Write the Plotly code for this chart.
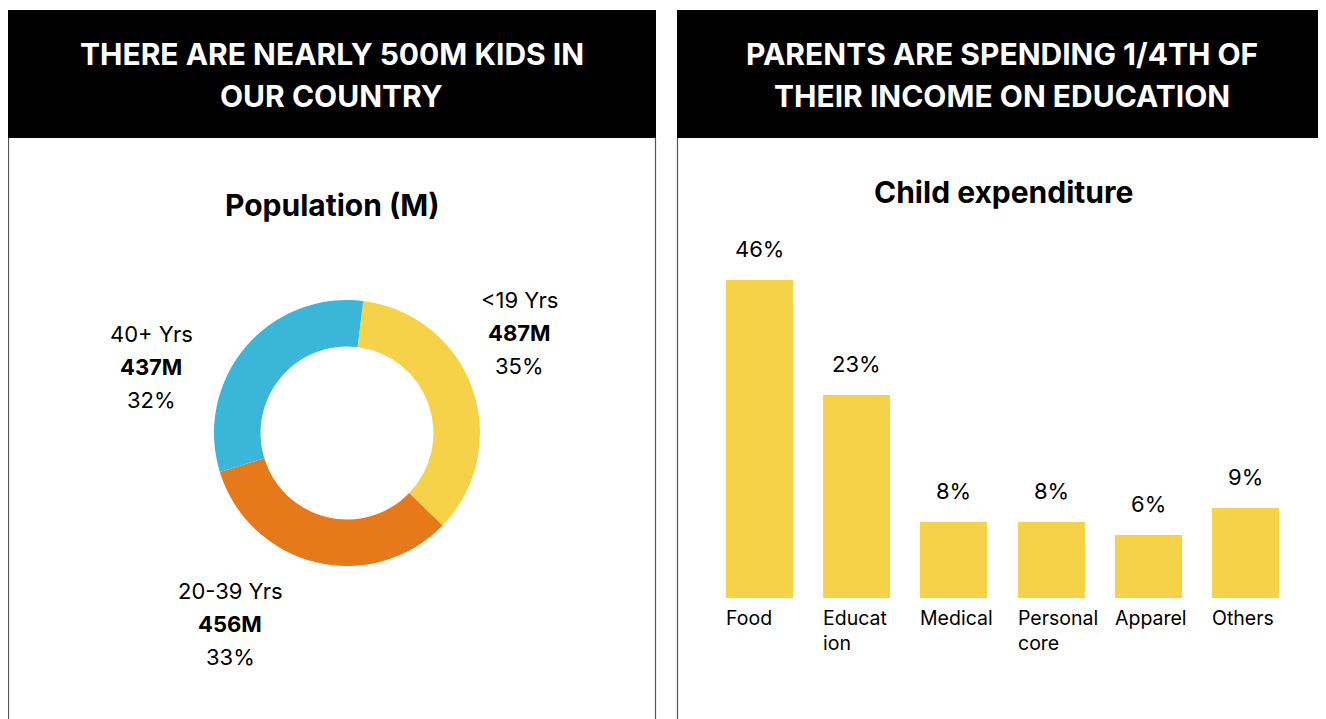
import plotly.graph_objects as go

# ---- data ----
age_groups = ["<19 Yrs", "20-39 Yrs", "40+ Yrs"]
population_m = [487, 456, 437]
pie_colors = ["#F5D247", "#E67A1A", "#3AB6D8"]

exp_categories = ["Food", "Education", "Medical", "Personal core", "Apparel", "Others"]
exp_tick_labels = ["Food", "Educat<br>ion", "Medical", "Personal<br>core", "Apparel", "Others"]
exp_pct = [46, 23, 8, 8, 6, 9]
# bar heights as drawn in the picture (same units as the Food bar = 46)
exp_bar_height = [46, 29.4, 11.0, 11.0, 9.1, 13.0]

# page body has an 8px margin, so the figure is sized to fit the window
OFF = 8
W, H = 1326 - OFF, 719 - OFF
FONT = "Inter"
BAR_COLOR = "#F5D247"


def fx(px):
    return max(0.0, min(1.0, (px - OFF) / W))


def fy(py):
    return max(0.0, min(1.0, 1 - (py - OFF) / H))


fig = go.Figure()

# donut: population by age
fig.add_trace(go.Pie(
    labels=age_groups,
    values=population_m,
    marker=dict(colors=pie_colors, line=dict(width=0)),
    hole=0.65,
    sort=False,
    direction="clockwise",
    rotation=7,
    textinfo="none",
    showlegend=False,
    domain=dict(x=[fx(214), fx(480)], y=[fy(566), fy(300)]),
))

# bars: child expenditure
fig.add_trace(go.Bar(
    x=list(range(len(exp_categories))),
    y=exp_bar_height,
    width=0.69,
    marker=dict(color=BAR_COLOR, line=dict(width=0)),
    hoverinfo="skip",
    showlegend=False,
    xaxis="x", yaxis="y",
))

shapes = []
# black header blocks
for x0, x1 in [(7, 656), (677, 1326)]:
    shapes.append(dict(type="rect", xref="paper", yref="paper",
                       x0=fx(x0), x1=fx(x1), y0=fy(138), y1=fy(10),
                       fillcolor="black", line=dict(width=0), layer="below"))
# thin panel borders
for xp in [8.5, 655.5, 677.5, 1325]:
    shapes.append(dict(type="line", xref="paper", yref="paper",
                       x0=fx(xp), x1=fx(xp), y0=0, y1=fy(138),
                       line=dict(color="#555555", width=1.2)))

annotations = []


def text(x, y, s, size, color="black", weight="normal", xanchor="center"):
    annotations.append(dict(
        x=fx(x), y=fy(y), xref="paper", yref="paper", text=s, showarrow=False,
        xanchor=xanchor, yanchor="middle",
        font=dict(family=FONT, size=size, color=color, weight=weight),
    ))


# headers
text(331.5, 54, "THERE ARE NEARLY 500M KIDS IN", 30, "white", "bold")
text(331.5, 96, "OUR COUNTRY", 30, "white", "bold")
text(1001.5, 54, "PARENTS ARE SPENDING 1/4TH OF", 30, "white", "bold")
text(1001.5, 96, "THEIR INCOME ON EDUCATION", 30, "white", "bold")

# chart titles
text(332, 205, "Population (M)", 30, weight="bold")
text(1003, 192, "Child expenditure", 30, weight="bold")

# donut labels
total = sum(population_m)
label_pos = {"<19 Yrs": (519, 300), "20-39 Yrs": (230, 591), "40+ Yrs": (151, 334)}
for name, val in zip(age_groups, population_m):
    cx, cy = label_pos[name]
    text(cx, cy, name, 22)
    text(cx, cy + 33, f"{val}M", 22, weight="bold")
    text(cx, cy + 66, f"{round(val / total * 100)}%", 22)

# bar value labels
for i, (h, p) in enumerate(zip(exp_bar_height, exp_pct)):
    annotations.append(dict(
        x=i, y=h, xref="x", yref="y", text=f"{p}%", showarrow=False,
        xanchor="center", yanchor="bottom", yshift=16,
        font=dict(family=FONT, size=22, color="black"),
    ))

# category labels, left aligned under each bar
for i, lab in enumerate(exp_tick_labels):
    annotations.append(dict(
        x=i - 0.345, y=0, xref="x", yref="y", text=lab, showarrow=False,
        xanchor="left", yanchor="top", align="left", yshift=-6, xshift=-2,
        font=dict(family=FONT, size=19.5, color="black"),
    ))

fig.update_layout(
    width=W, height=H,
    margin=dict(l=0, r=0, t=0, b=0),
    paper_bgcolor="white",
    plot_bgcolor="rgba(0,0,0,0)",
    shapes=shapes,
    annotations=annotations,
    xaxis=dict(domain=[fx(711), fx(1294)], range=[-0.5, 5.5],
               visible=False, fixedrange=True),
    yaxis=dict(domain=[fy(598), fy(280)], range=[0, 46],
               visible=False, fixedrange=True),
    bargap=0,
)

fig.write_html("out.html")
